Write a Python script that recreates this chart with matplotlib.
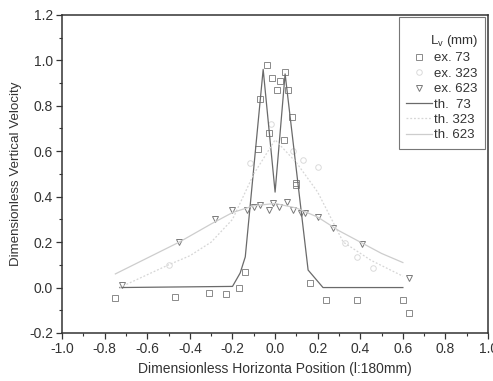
import matplotlib
matplotlib.use("Agg")
import matplotlib.pyplot as plt
from matplotlib.ticker import MultipleLocator, FormatStrFormatter

plt.rcParams['font.family'] = ['Liberation Sans', 'DejaVu Sans']

# experimental data
ex73_x = [-0.75, -0.47, -0.31, -0.23, -0.17, -0.14, -0.08, -0.07, -0.04, -0.03, -0.014, 0.01, 0.023,
          0.04, 0.047, 0.06, 0.08, 0.10, 0.10, 0.165, 0.24, 0.385, 0.60, 0.63]
ex73_y = [-0.045, -0.04, -0.025, -0.03, 0.0, 0.07, 0.61, 0.83, 0.98, 0.68, 0.92, 0.87, 0.91,
          0.65, 0.95, 0.87, 0.75, 0.46, 0.45, 0.02, -0.055, -0.055, -0.055, -0.11]

ex323_x = [-0.5, -0.12, -0.02, 0.085, 0.13, 0.2, 0.33, 0.385, 0.46]
ex323_y = [0.10, 0.55, 0.72, 0.60, 0.56, 0.53, 0.195, 0.135, 0.085]

ex623_x = [-0.72, -0.45, -0.28, -0.20, -0.13, -0.10, -0.07, -0.03, -0.01, 0.02, 0.055,
           0.085, 0.12, 0.14, 0.20, 0.27, 0.41, 0.63]
ex623_y = [0.01, 0.20, 0.30, 0.34, 0.34, 0.355, 0.365, 0.34, 0.37, 0.355, 0.375,
           0.34, 0.33, 0.33, 0.31, 0.26, 0.19, 0.04]

# theoretical curves
th73_x = [-0.73, -0.20, -0.164, -0.14, -0.056, 0.0, 0.047, 0.155, 0.225, 0.60]
th73_y = [0.0, 0.005, 0.064, 0.135, 0.96, 0.42, 0.94, 0.077, 0.0, 0.0]

th323_x = [-0.73, -0.5, -0.4, -0.3, -0.2, -0.1, 0.0, 0.1, 0.2, 0.32, 0.45, 0.60]
th323_y = [0.0, 0.10, 0.14, 0.20, 0.30, 0.50, 0.65, 0.55, 0.42, 0.20, 0.12, 0.05]

th623_x = [-0.75, -0.6, -0.45, -0.3, -0.2, -0.1, 0.0, 0.1, 0.2, 0.3, 0.4, 0.5, 0.6]
th623_y = [0.06, 0.13, 0.20, 0.28, 0.33, 0.36, 0.37, 0.35, 0.31, 0.25, 0.20, 0.15, 0.11]

fig = plt.figure(figsize=(4.93, 3.81), dpi=100)
ax = fig.add_axes([0.126, 0.126, 0.864, 0.835])

ax.plot(ex73_x, ex73_y, ls='none', marker='s', ms=4, mfc='none', mec='#8a8a8a', mew=0.7, label='ex. 73')
ax.plot(ex323_x, ex323_y, ls='none', marker='o', ms=4, mfc='none', mec='#dadada', mew=0.7, label='ex. 323')
ax.plot(ex623_x, ex623_y, ls='none', marker='v', ms=4, mfc='none', mec='#7a7a7a', mew=0.7, label='ex. 623')
ax.plot(th73_x, th73_y, color='#6a6a6a', lw=0.9, label='th.  73')
ax.plot(th323_x, th323_y, color='#d6d6d6', lw=0.9, ls=(0, (1.5, 1.5)), label='th. 323')
ax.plot(th623_x, th623_y, color='#cdcdcd', lw=0.9, label='th. 623')

ax.set_xlim(-1.0, 1.0)
ax.set_ylim(-0.2, 1.2)
ax.xaxis.set_major_locator(MultipleLocator(0.2))
ax.xaxis.set_minor_locator(MultipleLocator(0.1))
ax.yaxis.set_major_locator(MultipleLocator(0.2))
ax.yaxis.set_minor_locator(MultipleLocator(0.1))
ax.xaxis.set_major_formatter(FormatStrFormatter('%.1f'))
ax.yaxis.set_major_formatter(FormatStrFormatter('%.1f'))
ax.tick_params(which='major', direction='out', length=4, width=0.9, labelsize=10, pad=2.5,
               color='#333333', labelcolor='#333333')
ax.tick_params(which='minor', direction='out', length=2.5, width=0.8, color='#333333')
for s in ax.spines.values():
    s.set_linewidth(1.1)
    s.set_color('#333333')

ax.set_xlabel('Dimensionless Horizonta Position (l:180mm)', fontsize=10, color='#333333', labelpad=4)
ax.set_ylabel('Dimensionless Vertical Velocity', fontsize=9.6, color='#333333', labelpad=5)

leg = ax.legend(loc='upper right', bbox_to_anchor=(0.993, 0.993), fontsize=9.5,
                title='\nL$_\\mathregular{v}$ (mm)', title_fontsize=9.5, frameon=True, fancybox=False,
                edgecolor='#555555', handlelength=2.0, handletextpad=0.15, labelspacing=0.24,
                borderpad=0.55, borderaxespad=0.0)
leg.get_title().set_linespacing(0.7)
leg.get_frame().set_linewidth(0.8)
leg._legend_box.align = 'right'
for t in leg.get_texts():
    t.set_color('#333333')
leg.get_title().set_color('#333333')

fig.savefig('out.png', dpi=100)
